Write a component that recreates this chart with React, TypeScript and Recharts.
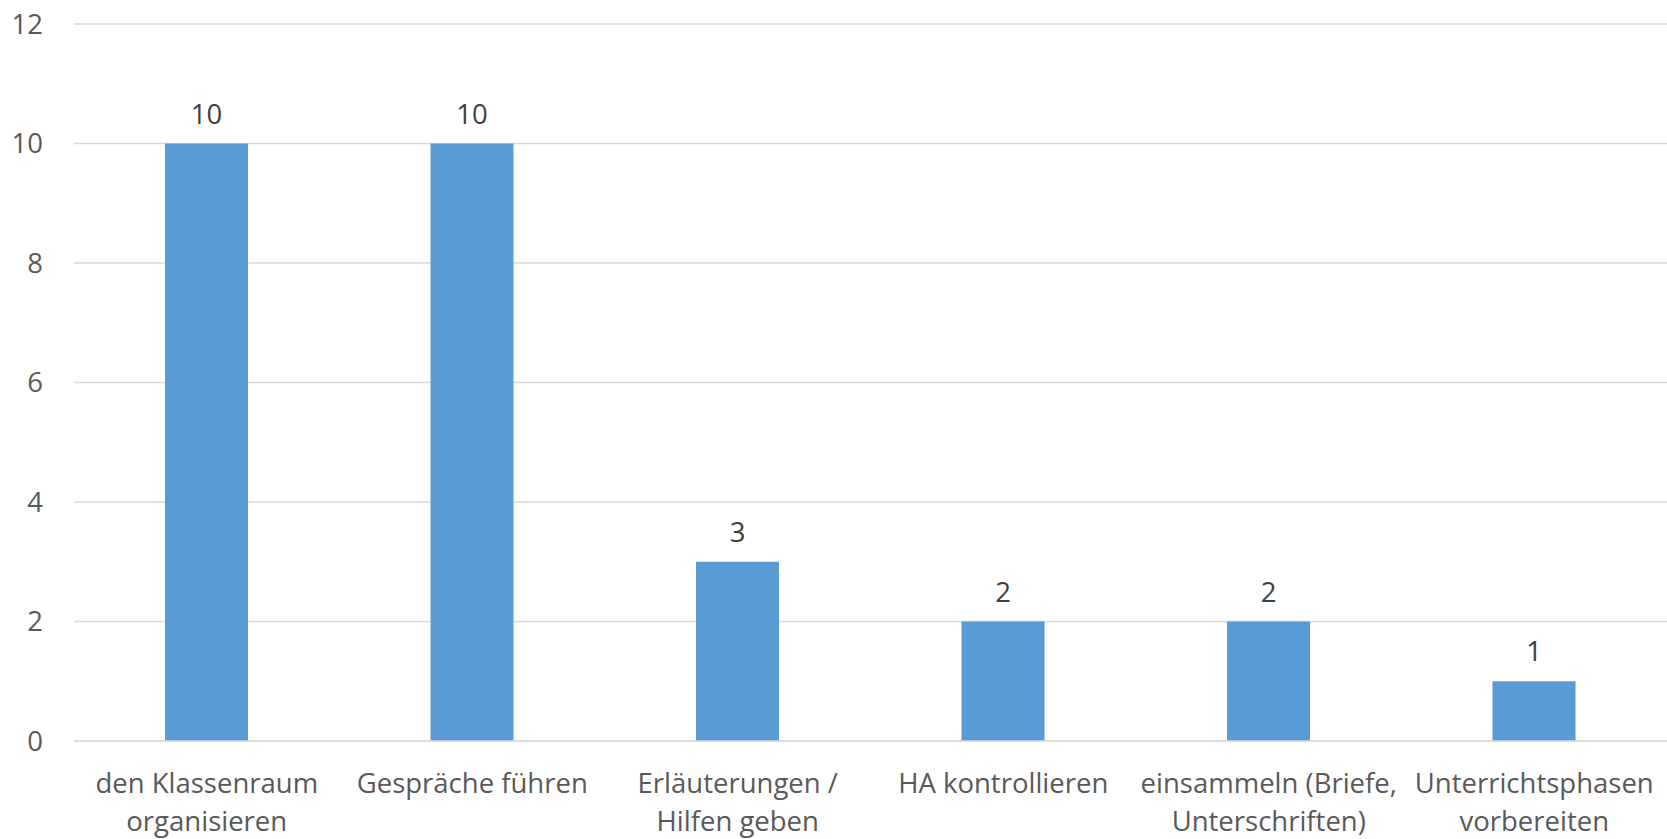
import React from 'react';
import { BarChart, Bar, XAxis, YAxis, CartesianGrid, LabelList } from 'recharts';

const categories = [
  'den Klassenraum\norganisieren',
  'Gespräche führen',
  'Erläuterungen /\nHilfen geben',
  'HA kontrollieren',
  'einsammeln (Briefe,\nUnterschriften)',
  'Unterrichtsphasen\nvorbereiten',
];
const values = [10, 10, 3, 2, 2, 1];
const yTicks = [0, 2, 4, 6, 8, 10, 12];

const data = categories.map((c, i) => ({ name: c, value: values[i] }));

const FONT = '"Open Sans", sans-serif';
const FS = 27.5;

const XTick = (props: any) => {
  const { x, y, payload } = props;
  const lines = String(payload.value).split('\n');
  return (
    <text x={x} y={y} textAnchor="middle" fill="#595959" fontSize={FS} fontFamily={FONT}>
      {lines.map((l, i) => (
        <tspan key={i} x={x} dy={i === 0 ? 46 : 38}>
          {l}
        </tspan>
      ))}
    </text>
  );
};

export default function App() {
  return (
    <div style={{ position: 'absolute', left: 0, top: 0, background: '#fff' }}>
      <BarChart
        width={1667}
        height={839}
        data={data}
        margin={{ top: 24, right: 0, bottom: 0, left: 0 }}
        barSize={83}
      >
        <CartesianGrid vertical={false} stroke="#d9d9d9" strokeWidth={1.5} />
        <XAxis
          dataKey="name"
          axisLine={{ stroke: '#d9d9d9', strokeWidth: 1.5 }}
          tickLine={false}
          interval={0}
          height={98}
          tickMargin={0}
          tick={<XTick />}
        />
        <YAxis
          domain={[0, 12]}
          ticks={yTicks}
          width={74}
          axisLine={false}
          tickLine={false}
          tickMargin={25}
          tick={{ fill: '#595959', fontSize: FS, fontFamily: FONT }}
        />
        <Bar dataKey="value" fill="#5b9bd5" isAnimationActive={false}>
          <LabelList dataKey="value" position="top" offset={20} fill="#404040" fontSize={FS} fontFamily={FONT} />
        </Bar>
      </BarChart>
    </div>
  );
}
